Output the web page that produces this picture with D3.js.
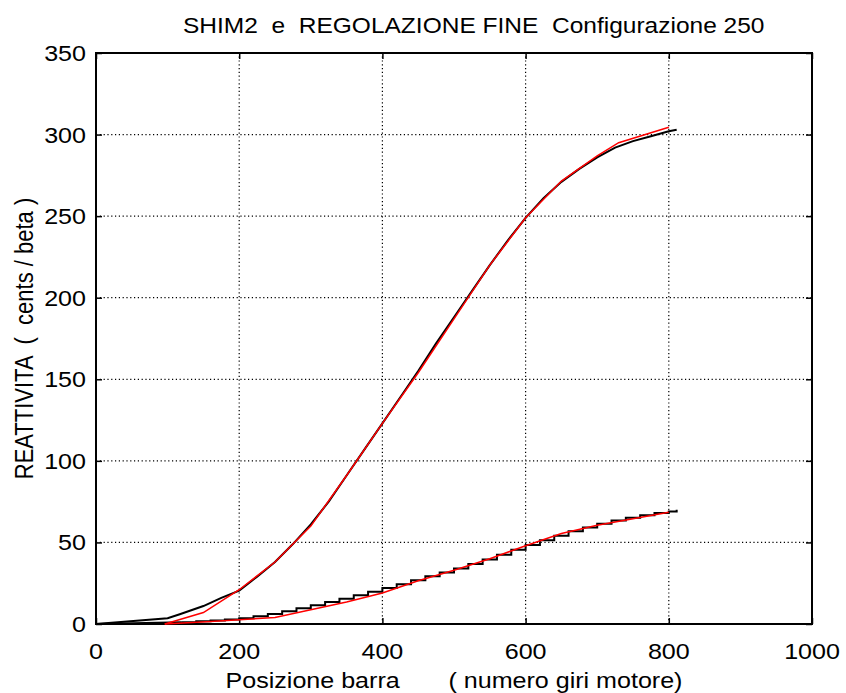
<!DOCTYPE html>
<html>
<head>
<meta charset="utf-8">
<script src="https://cdn.jsdelivr.net/npm/d3@7"></script>
<style>
  body { margin: 0; background: #fff; }
  text { font-family: "Liberation Sans", Arial, sans-serif; white-space: pre; fill: #000; }
</style>
</head>
<body>
<div id="chart"></div>
<script>
!function () {
  'use strict';

  var titleText = "SHIM2  e  REGOLAZIONE FINE  Configurazione 250";
  var xLabelText = "Posizione barra       ( numero giri motore)";
  var yLabelText = "REATTIVITA  (  cents / beta )";

  var xTicks = [0, 200, 400, 600, 800, 1000];
  var yTicks = [0, 50, 100, 150, 200, 250, 300, 350];

  // SHIM2, measured (black)
  var shimPos = [0, 100, 117, 150, 175, 200, 225, 250, 275, 300, 325, 350, 375, 400, 425, 450, 475, 500,
                 525, 550, 575, 600, 625, 650, 675, 700, 725, 750, 775, 800, 811];
  var shimMeasured = [0, 3.5, 6, 11, 16, 20.5, 29, 38, 49, 61, 75, 91, 107, 123, 139, 155, 172, 188,
                      204, 220, 235, 249, 261, 271, 279, 286, 292, 296, 299, 302, 303];
  // SHIM2, fitted (red)
  var shimFitPos = [96, 150, 200, 250, 300, 350, 400, 450, 500, 550, 600, 650, 700, 730, 800];
  var shimFit = [0, 7, 21, 38, 60, 91, 123, 154, 187, 220, 249, 271.5, 287, 295, 304.5];

  // regolazione fine, measured (black, stepped)
  var finePos = [0, 120, 140, 160, 180, 200, 220, 240, 260, 280, 300, 320, 340, 360, 380, 400, 420, 440,
                 460, 480, 500, 520, 540, 560, 580, 600, 620, 640, 660, 680, 700, 720, 740, 760, 780,
                 800, 811];
  var fineMeasured = [0, 1, 1.7, 2.2, 2.8, 3.5, 4.8, 6.2, 7.8, 9.6, 11.5, 13.5, 15.5, 17.6, 19.8, 22, 24.4, 26.8,
                      29.2, 31.6, 34, 36.8, 39.6, 42.5, 45.5, 48.5, 51.3, 54.1, 56.8, 59.2, 61.5, 63.4, 65.2, 66.7, 68,
                      69, 70];
  // regolazione fine, fitted (red)
  var fineFitPos = [96, 160, 250, 350, 400, 450, 500, 550, 600, 650, 700, 800];
  var fineFit = [0, 1.5, 4, 13.5, 19, 26.5, 33, 40, 48, 55.5, 60.5, 68.5];

  var width = 846, height = 693;
  var margin = { left: 96, right: 34, top: 53, bottom: 69 };
  var stretch = 1.14, fontSize = 22;

  var svg = d3.select("#chart").append("svg")
    .attr("width", width)
    .attr("height", height);

  var x = d3.scaleLinear().domain([0, 1000]).range([margin.left, width - margin.right]);
  var y = d3.scaleLinear().domain([0, 350]).range([height - margin.bottom, margin.top]);

  var pairs = function (xs, ys) { return xs.map(function (d, i) { return [d, ys[i]]; }); };

  // grid
  svg.append("g")
    .selectAll("line.vgrid")
    .data(xTicks.slice(1, -1))
    .enter().append("line")
    .attr("x1", function (d) { return x(d); })
    .attr("x2", function (d) { return x(d); })
    .attr("y1", y(0))
    .attr("y2", y(350));
  svg.append("g")
    .selectAll("line.hgrid")
    .data(yTicks.slice(1, -1))
    .enter().append("line")
    .attr("x1", x(0))
    .attr("x2", x(1000))
    .attr("y1", function (d) { return y(d); })
    .attr("y2", function (d) { return y(d); });
  svg.selectAll("g line")
    .style("stroke", "#000")
    .style("stroke-width", 1.2)
    .style("stroke-dasharray", "1.2,2.6");

  // axes, ticks inside on all four sides
  var tick = 6;
  svg.append("g").attr("transform", "translate(0," + y(0) + ")")
    .call(d3.axisTop(x).tickValues(xTicks).tickSize(tick).tickFormat(""));
  svg.append("g").attr("transform", "translate(0," + y(350) + ")")
    .call(d3.axisBottom(x).tickValues(xTicks).tickSize(tick).tickFormat(""));
  svg.append("g").attr("transform", "translate(" + x(0) + ",0)")
    .call(d3.axisRight(y).tickValues(yTicks).tickSize(tick).tickFormat(""));
  svg.append("g").attr("transform", "translate(" + x(1000) + ",0)")
    .call(d3.axisLeft(y).tickValues(yTicks).tickSize(tick).tickFormat(""));
  svg.selectAll(".domain").style("display", "none");
  svg.selectAll(".tick line").style("stroke", "#000").style("stroke-width", 1.5).style("stroke-dasharray", null);

  svg.append("rect")
    .attr("x", x(0))
    .attr("y", y(350))
    .attr("width", x(1000) - x(0))
    .attr("height", y(0) - y(350))
    .style("fill", "none")
    .style("stroke", "#000")
    .style("stroke-width", 2);

  // text helper, the reference is a bit wider than the font
  var label = function (px, py, str, anchor, rotate, size) {
    var g = svg.append("g")
      .attr("transform", "translate(" + px + "," + py + ") scale(" + stretch + ",1)");
    g.append("text")
      .attr("transform", rotate ? "rotate(-90)" : null)
      .attr("text-anchor", anchor)
      .style("font-size", (size || fontSize) + "px")
      .text(str);
  };

  xTicks.forEach(function (d) { label(x(d), 659, String(d), "middle"); });
  yTicks.forEach(function (d) { label(86, y(d) + 8, String(d), "end"); });

  label(183, 33, titleText, "start", false, 21.5);
  label(x(500), 688, xLabelText, "middle");
  label(33, y(175), yLabelText, "middle", true);

  // curves
  var line = d3.line()
    .x(function (d) { return x(d[0]); })
    .y(function (d) { return y(d[1]); });
  var stepLine = d3.line()
    .x(function (d) { return x(d[0]); })
    .y(function (d) { return y(d[1]); })
    .curve(d3.curveStepAfter);

  var fineData = pairs(finePos, fineMeasured);

  var curves = svg.append("g").style("fill", "none");
  curves.append("path").attr("d", line(pairs(shimPos, shimMeasured)))
    .style("stroke", "#000").style("stroke-width", 2);
  curves.append("path").attr("d", line(fineData.slice(0, 2)))
    .style("stroke", "#000").style("stroke-width", 2);
  curves.append("path").attr("d", stepLine(fineData.slice(1)))
    .style("stroke", "#000").style("stroke-width", 2);
  curves.append("path").attr("d", line(pairs(shimFitPos, shimFit)))
    .style("stroke", "#ff0000").style("stroke-width", 1.5);
  curves.append("path").attr("d", line(pairs(fineFitPos, fineFit)))
    .style("stroke", "#ff0000").style("stroke-width", 1.5);

}.call(this);
</script>
</body>
</html>
